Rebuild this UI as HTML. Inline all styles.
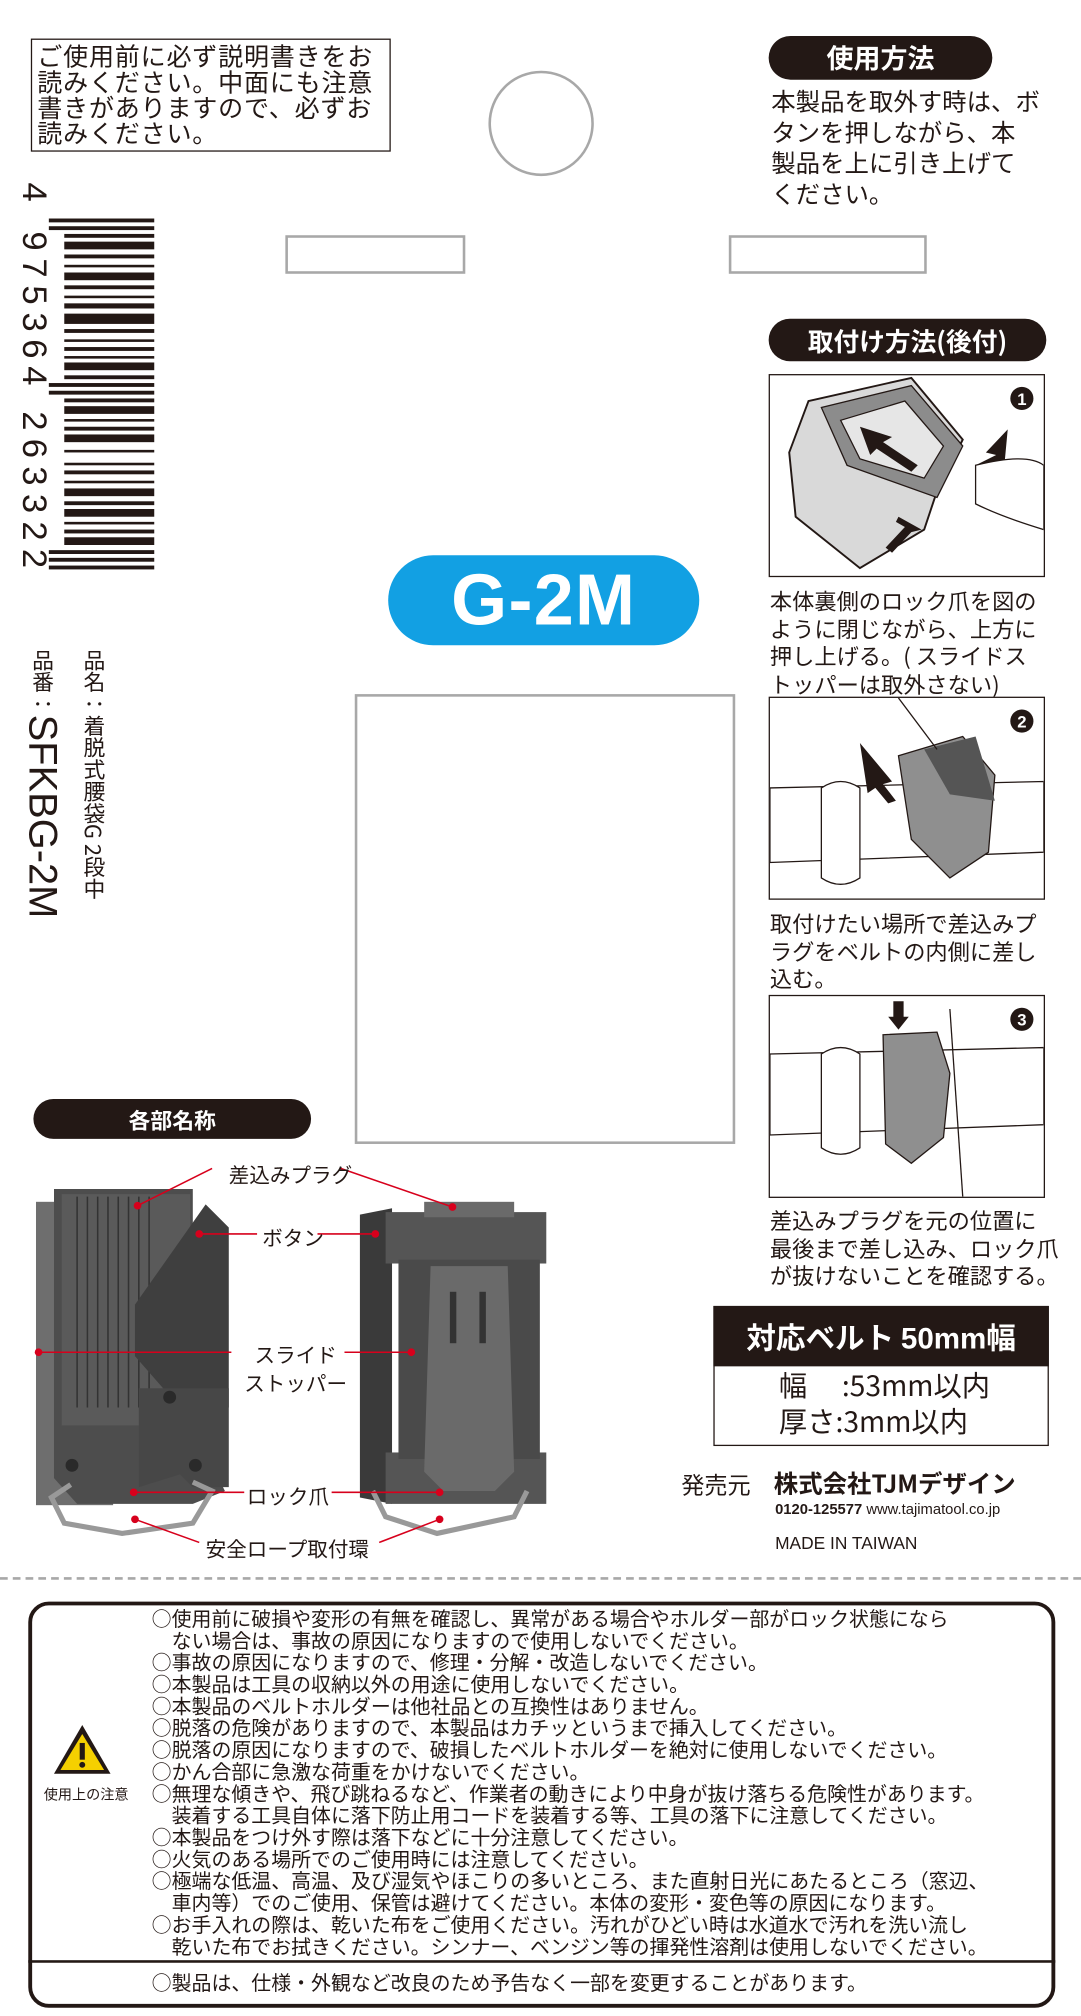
<!DOCTYPE html>
<html><head><meta charset="utf-8">
<style>
html,body{margin:0;padding:0;background:#fff;}
body{width:1081px;height:2016px;overflow:hidden;position:relative;}
#w{position:absolute;left:0;top:0;width:841px;height:1568px;overflow:hidden;transform:scale(1.28537);transform-origin:0 0;font-family:"Liberation Sans","Noto Sans CJK JP",sans-serif;color:#231815;}
.a{position:absolute;}
.pill{position:absolute;background:#231815;color:#fff;border-radius:18px;font-weight:bold;text-align:center;}
.jp{font-family:"Noto Sans CJK JP","Liberation Sans",sans-serif;}
.box{position:absolute;border:1.5px solid #231815;background:#fff;}
.gbox{position:absolute;border:2px solid #a8a8a8;}
.red{stroke:#d7001c;stroke-width:1.2;fill:none}
</style></head><body><div id="w">

<div class="box jp" style="left:24px;top:30px;width:278px;height:86px;"></div>
<div class="a jp" style="left:29px;top:33px;width:275px;font-size:19.5px;line-height:20px;letter-spacing:0.6px;">ご使用前に必ず説明書きをお読みください。中面にも注意書きがありますので、必ずお読みください。</div>

<div class="a" style="left:380px;top:55px;width:78px;height:78px;border:2px solid #a8a8a8;border-radius:50%;"></div>
<div class="gbox" style="left:222px;top:183px;width:136px;height:26px;"></div>
<div class="gbox" style="left:567px;top:183px;width:150px;height:26px;"></div>

<div class="pill jp" style="left:598px;top:28px;width:174px;height:34px;line-height:34px;font-size:21px;">使用方法</div>
<div class="a jp" style="left:600px;top:67px;white-space:nowrap;font-size:19px;line-height:24px;">本製品を取外す時は、ボ<br>タンを押しながら、本<br>製品を上に引き上げて<br>ください。</div>

<div class="pill jp" style="left:598px;top:248px;width:216px;height:33px;line-height:33px;font-size:20px;">取付け方法(後付)</div>

<div class="box" style="left:598px;top:291px;width:213px;height:156px;overflow:hidden;">
<svg width="213" height="156">
<path d="M30 20 L110 2 L150 50 L130 90 L120 120 L70 150 L20 110 L15 60 Z" fill="#d9d9d9" stroke="#231815" stroke-width="1.5"/>
<path d="M40 25 L110 8 L150 55 L130 95 L60 70 Z" fill="#8c8c8c" stroke="#231815"/>
<path d="M55 35 L105 20 L135 55 L120 80 L70 65 Z" fill="#e6e6e6" stroke="#231815"/>
<polygon points="70,40 95,48 88,52 115,70 110,75 83,57 78,62" fill="#231815"/>
<polygon points="185,42 168,60 176,62 160,70 164,74 180,66 182,74" fill="#231815"/>
<polygon points="100,110 118,120 110,122 95,138 90,134 105,118 98,114" fill="#231815"/>
<path d="M160 70 Q200 60 213 70 L213 120 Q180 110 160 100 Z" fill="#fff" stroke="#231815"/>
<circle cx="196" cy="18" r="9" fill="#231815"/><text x="196" y="23" fill="#fff" font-size="13" font-weight="bold" text-anchor="middle">1</text>
</svg></div>
<div class="a jp" style="left:599px;top:456px;white-space:nowrap;font-size:17.3px;line-height:21.5px;">本体裏側のロック爪を図の<br>ように閉じながら、上方に<br>押し上げる。( スライドス<br>トッパーは取外さない)</div>

<div class="box" style="left:598px;top:542px;width:213px;height:156px;overflow:hidden;">
<svg width="213" height="156">
<path d="M0 70 L213 65 L213 120 L0 128 Z" fill="#fff" stroke="#231815"/>
<path d="M40 70 Q55 60 70 70 L70 140 Q55 150 40 140 Z" fill="#fff" stroke="#231815"/>
<path d="M100 45 L150 30 L175 60 L170 120 L140 140 L110 110 Z" fill="#8f8f8f" stroke="#231815"/>
<path d="M120 40 L160 30 L175 80 L140 75 Z" fill="#555"/>
<polygon points="70,35 95,65 88,67 98,80 92,82 82,70 76,74" fill="#231815"/>
<line x1="100" y1="0" x2="130" y2="40" stroke="#231815"/>
<circle cx="196" cy="18" r="9" fill="#231815"/><text x="196" y="23" fill="#fff" font-size="13" font-weight="bold" text-anchor="middle">2</text>
</svg></div>
<div class="a jp" style="left:599px;top:707px;white-space:nowrap;font-size:17.3px;line-height:21.5px;">取付けたい場所で差込みプ<br>ラグをベルトの内側に差し<br>込む。</div>

<div class="box" style="left:598px;top:774px;width:213px;height:156px;overflow:hidden;">
<svg width="213" height="156">
<path d="M0 45 L213 40 L213 100 L0 108 Z" fill="#fff" stroke="#231815"/>
<path d="M40 45 Q55 35 70 45 L70 118 Q55 128 40 118 Z" fill="#fff" stroke="#231815"/>
<path d="M88 30 L130 28 L140 60 L135 110 L110 130 L90 115 Z" fill="#8f8f8f" stroke="#231815"/>
<polygon points="96,4 104,4 104,16 108,16 100,26 92,16 96,16" fill="#231815"/>
<line x1="140" y1="10" x2="150" y2="156" stroke="#231815"/>
<circle cx="196" cy="18" r="9" fill="#231815"/><text x="196" y="23" fill="#fff" font-size="13" font-weight="bold" text-anchor="middle">3</text>
</svg></div>
<div class="a jp" style="left:599px;top:938px;white-space:nowrap;font-size:17.3px;line-height:21.5px;">差込みプラグを元の位置に<br>最後まで差し込み、ロック爪<br>が抜けないことを確認する。</div>

<div class="a" style="left:302px;top:432px;width:242px;height:70px;background:#12a0e3;border-radius:35px;color:#fff;font-weight:bold;font-size:56px;line-height:70px;text-align:center;letter-spacing:1px;">G-2M</div>
<div class="gbox" style="left:276px;top:540px;width:292px;height:346px;"></div>

<!-- barcode -->
<svg class="a" style="left:0;top:140px;" width="130" height="320">
<g fill="#231815">
<rect x="38" y="30" width="82" height="3"/><rect x="38" y="36" width="82" height="3"/>
<rect x="50" y="42" width="70" height="3"/><rect x="50" y="48" width="70" height="6"/><rect x="50" y="58" width="70" height="3"/>
<rect x="50" y="66" width="70" height="2"/><rect x="50" y="72" width="70" height="6"/><rect x="50" y="82" width="70" height="3"/>
<rect x="50" y="90" width="70" height="2"/><rect x="50" y="96" width="70" height="4"/><rect x="50" y="104" width="70" height="8"/>
<rect x="50" y="116" width="70" height="3"/><rect x="50" y="124" width="70" height="2"/><rect x="50" y="130" width="70" height="3"/>
<rect x="50" y="137" width="70" height="2"/><rect x="50" y="142" width="70" height="6"/><rect x="50" y="152" width="70" height="3"/>
<rect x="38" y="158" width="82" height="3"/><rect x="38" y="164" width="82" height="3"/>
<rect x="50" y="170" width="70" height="3"/><rect x="50" y="176" width="70" height="6"/><rect x="50" y="186" width="70" height="2"/>
<rect x="50" y="192" width="70" height="3"/><rect x="50" y="198" width="70" height="6"/><rect x="50" y="210" width="70" height="2"/>
<rect x="50" y="220" width="70" height="2"/><rect x="50" y="226" width="70" height="3"/><rect x="50" y="234" width="70" height="2"/>
<rect x="50" y="240" width="70" height="6"/><rect x="50" y="250" width="70" height="3"/><rect x="50" y="256" width="70" height="6"/>
<rect x="50" y="266" width="70" height="2"/><rect x="50" y="272" width="70" height="3"/><rect x="50" y="278" width="70" height="6"/>
<rect x="38" y="288" width="82" height="3"/><rect x="38" y="294" width="82" height="3"/><rect x="38" y="300" width="82" height="3"/>
</g>
<g font-size="27" fill="#231815" font-family="Liberation Sans" transform="rotate(90)">
<text x="2" y="-18">4</text><text x="40" y="-18" textLength="120" lengthAdjust="spacing">975364</text><text x="180" y="-18" textLength="122" lengthAdjust="spacing">263322</text>
</g></svg>

<div class="a jp" style="left:62px;top:505px;writing-mode:vertical-rl;font-size:17px;line-height:22px;">品名：着脱式腰袋G 2段中</div>
<div class="a jp" style="left:22px;top:505px;writing-mode:vertical-rl;font-size:17px;line-height:22px;">品番：<span style="font-family:'Liberation Sans';font-size:31px;">SFKBG-2M</span></div>

<div class="pill jp" style="left:26px;top:855px;width:216px;height:31px;line-height:31px;font-size:17px;">各部名称</div>

<svg class="a" style="left:0;top:895px;" width="560" height="320">
<rect x="28" y="40" width="60" height="236" fill="#6e6e6e"/>
<path d="M42 30 L150 30 L150 255 L170 255 L175 265 L150 275 L60 275 L42 255 Z" fill="#4d4d4d"/>
<rect x="48" y="34" width="100" height="180" fill="#5a5a5a"/>
<g stroke="#333" stroke-width="1.2">
<line x1="60" y1="36" x2="60" y2="200"/><line x1="68" y1="36" x2="68" y2="200"/><line x1="76" y1="36" x2="76" y2="200"/><line x1="84" y1="36" x2="84" y2="200"/><line x1="92" y1="36" x2="92" y2="200"/><line x1="100" y1="36" x2="100" y2="200"/><line x1="108" y1="36" x2="108" y2="200"/><line x1="116" y1="36" x2="116" y2="200"/>
</g>
<path d="M105 120 L160 42 L178 60 L178 200 L140 200 L105 160 Z" fill="#3f3f3f"/>
<path d="M108 185 L178 185 L178 262 L150 262 L140 252 L108 262 Z" fill="#474747"/>
<circle cx="56" cy="245" r="5" fill="#2a2a2a"/><circle cx="152" cy="245" r="5" fill="#2a2a2a"/><circle cx="132" cy="192" r="5" fill="#2a2a2a"/>
<path d="M55 260 L40 270 L50 290 L95 298 L150 290 L165 265 L150 258" fill="none" stroke="#999" stroke-width="4"/>
<path d="M280 50 L305 45 L305 275 L280 270 Z" fill="#3a3a3a"/>
<rect x="300" y="48" width="125" height="40" fill="#555"/>
<rect x="300" y="235" width="125" height="40" fill="#555"/>
<rect x="310" y="85" width="110" height="155" fill="#4a4a4a"/>
<path d="M335 90 L395 90 L400 250 L385 265 L345 265 L330 250 Z" fill="#6a6a6a"/>
<rect x="350" y="110" width="5" height="40" fill="#333"/><rect x="373" y="110" width="5" height="40" fill="#333"/>
<rect x="330" y="40" width="70" height="12" fill="#6a6a6a"/>
<path d="M290 265 L300 285 L340 298 L400 285 L410 265" fill="none" stroke="#999" stroke-width="4"/>
<g class="red">
<path d="M107 43 L165 14"/><path d="M265 14 L352 44"/>
<path d="M155 65 L200 65"/><path d="M247 65 L292 65"/>
<path d="M30 157 L180 157"/><path d="M268 157 L320 157"/>
<path d="M104 266 L190 266"/><path d="M258 266 L342 266"/>
<path d="M105 287 L155 305"/><path d="M295 305 L342 287"/>
</g>
<g fill="#d7001c"><circle cx="107" cy="43" r="3"/><circle cx="352" cy="44" r="3"/><circle cx="155" cy="65" r="3"/><circle cx="292" cy="65" r="3"/><circle cx="30" cy="157" r="3"/><circle cx="320" cy="157" r="3"/><circle cx="104" cy="266" r="3"/><circle cx="342" cy="266" r="3"/><circle cx="105" cy="287" r="3"/><circle cx="342" cy="287" r="3"/></g>
</svg>
<div class="a jp" style="left:178px;top:901px;font-size:16px;">差込みプラグ</div>
<div class="a jp" style="left:204px;top:950px;font-size:16px;">ボタン</div>
<div class="a jp" style="left:190px;top:1042px;font-size:16px;line-height:22px;text-align:center;">スライド<br>ストッパー</div>
<div class="a jp" style="left:192px;top:1151px;font-size:16px;">ロック爪</div>
<div class="a jp" style="left:160px;top:1192px;font-size:16px;">安全ロープ取付環</div>

<div class="a" style="left:555px;top:1016px;width:259px;height:107px;border:1.5px solid #231815;"></div>
<div class="a jp" style="left:555px;top:1016px;width:261px;height:47px;background:#231815;color:#fff;font-weight:bold;font-size:23px;line-height:47px;text-align:center;">対応ベルト <span style="font-family:'Liberation Sans'">50mm</span>幅</div>
<div class="a jp" style="left:606px;top:1063px;font-size:22px;line-height:28px;white-space:pre;">幅　 :53mm以内
厚さ:3mm以内</div>

<div class="a jp" style="left:530px;top:1142px;font-size:18px;">発売元</div>
<div class="a jp" style="left:602px;top:1140px;font-size:19px;font-weight:bold;">株式会社TJMデザイン</div>
<div class="a" style="left:603px;top:1169px;font-size:11.5px;"><b>0120-125577</b> www.tajimatool.co.jp</div>
<div class="a" style="left:603px;top:1193px;font-size:13.5px;">MADE IN TAIWAN</div>

<div class="a" style="left:0;top:1227px;width:841px;border-top:2px dashed #a8a8a8;"></div>

<div class="a" style="left:22px;top:1246px;width:793px;height:310px;border:3px solid #231815;border-radius:16px;"></div>
<div class="a" style="left:22px;top:1525px;width:799px;border-top:2.5px solid #231815;"></div>
<svg class="a" style="left:40px;top:1340px;" width="48" height="42"><path d="M24 2 L46 40 L2 40 Z" fill="#231815"/><path d="M24 9 L41 37 L7 37 Z" fill="#f5d000"/><rect x="22" y="16" width="4" height="13" fill="#231815"/><circle cx="24" cy="33" r="2.3" fill="#231815"/></svg>
<div class="a jp" style="left:34px;top:1388px;font-size:11px;">使用上の注意</div>
<div class="a jp" style="left:118px;top:1251px;font-size:15.5px;line-height:17px;white-space:pre;">○使用前に破損や変形の有無を確認し、異常がある場合やホルダー部がロック状態になら
　ない場合は、事故の原因になりますので使用しないでください。
○事故の原因になりますので、修理・分解・改造しないでください。
○本製品は工具の収納以外の用途に使用しないでください。
○本製品のベルトホルダーは他社品との互換性はありません。
○脱落の危険がありますので、本製品はカチッというまで挿入してください。
○脱落の原因になりますので、破損したベルトホルダーを絶対に使用しないでください。
○かん合部に急激な荷重をかけないでください。
○無理な傾きや、飛び跳ねるなど、作業者の動きにより中身が抜け落ちる危険性があります。
　装着する工具自体に落下防止用コードを装着する等、工具の落下に注意してください。
○本製品をつけ外す際は落下などに十分注意してください。
○火気のある場所でのご使用時には注意してください。
○極端な低温、高温、及び湿気やほこりの多いところ、また直射日光にあたるところ（窓辺、
　車内等）でのご使用、保管は避けてください。本体の変形・変色等の原因になります。
○お手入れの際は、乾いた布をご使用ください。汚れがひどい時は水道水で汚れを洗い流し
　乾いた布でお拭きください。シンナー、ベンジン等の揮発性溶剤は使用しないでください。</div>
<div class="a jp" style="left:118px;top:1531px;font-size:15.5px;">○製品は、仕様・外観など改良のため予告なく一部を変更することがあります。</div>

</div></body></html>
